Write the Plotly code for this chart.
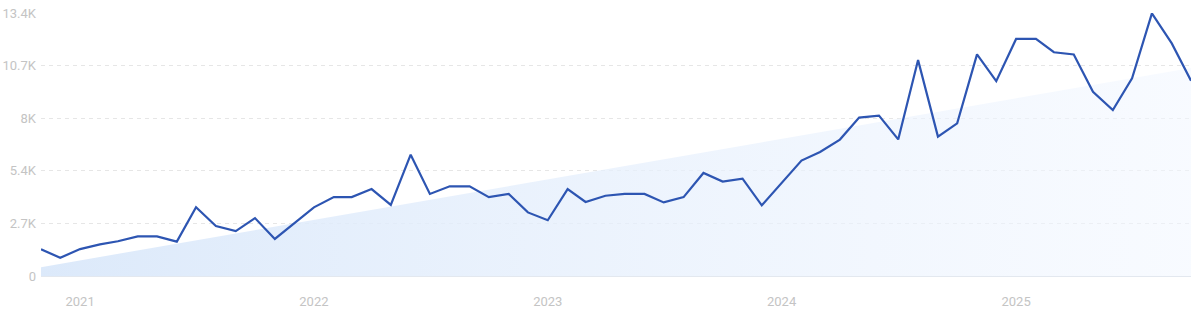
import plotly.graph_objects as go
import pandas as pd

months = pd.date_range("2020-11-01", periods=60, freq="MS")
values = [1360, 930, 1370, 1610, 1770, 2020, 2020, 1750, 3500, 2550,
          2290, 2950, 1890, 2700, 3500, 4020, 4020, 4430, 3620, 6180,
          4180, 4570, 4570, 4020, 4180, 3240, 2840, 4430, 3770, 4090,
          4180, 4180, 3750, 4020, 5250, 4810, 4960, 3600, 4750, 5880,
          6320, 6950, 8070, 8170, 6960, 11000, 7100, 7780, 11290, 9930,
          12080, 12080, 11400, 11290, 9390, 8460, 10070, 13380, 11850, 9950]
trend_x = [months[0], months[-1]]
trend_y = [450, 10600]

tick_vals = [0, 2680, 5360, 8040, 10720, 13400]
tick_text = ["0", "2.7K", "5.4K", "8K", "10.7K", "13.4K"]

fig = go.Figure()
fig.add_trace(go.Scatter(
    x=trend_x, y=trend_y, mode="lines", line=dict(width=0),
    fill="tozeroy",
    fillgradient=dict(type="horizontal",
                      colorscale=[[0, "rgba(218,232,250,0.95)"], [1, "rgba(242,247,255,0.55)"]]),
    hoverinfo="skip", showlegend=False,
))
fig.add_trace(go.Scatter(
    x=months, y=values, mode="lines",
    line=dict(color="#2d55b2", width=2.2),
    showlegend=False, cliponaxis=False,
))

fig.update_layout(
    width=1200, height=312,
    margin=dict(l=41, r=9, t=13, b=36),
    plot_bgcolor="white", paper_bgcolor="white",
    font=dict(family="Roboto", size=13, color="#c4c4c4"),
)
fig.update_xaxes(
    type="date", range=[months[0], months[-1]], automargin=False,
    tick0="2021-01-01", dtick="M12", tickformat="%Y",
    showgrid=False, zeroline=False, showline=True, linecolor="#e3e8ef", linewidth=1,
    ticks="", ticklabelstandoff=13,
)
fig.update_yaxes(
    range=[0, 13400], tickvals=tick_vals, ticktext=tick_text, automargin=False,
    showgrid=True, gridcolor="#e6e6e6", griddash="4px,4px", gridwidth=1,
    zeroline=False, ticks="", ticklabelstandoff=4,
)

fig.write_html("out.html")
